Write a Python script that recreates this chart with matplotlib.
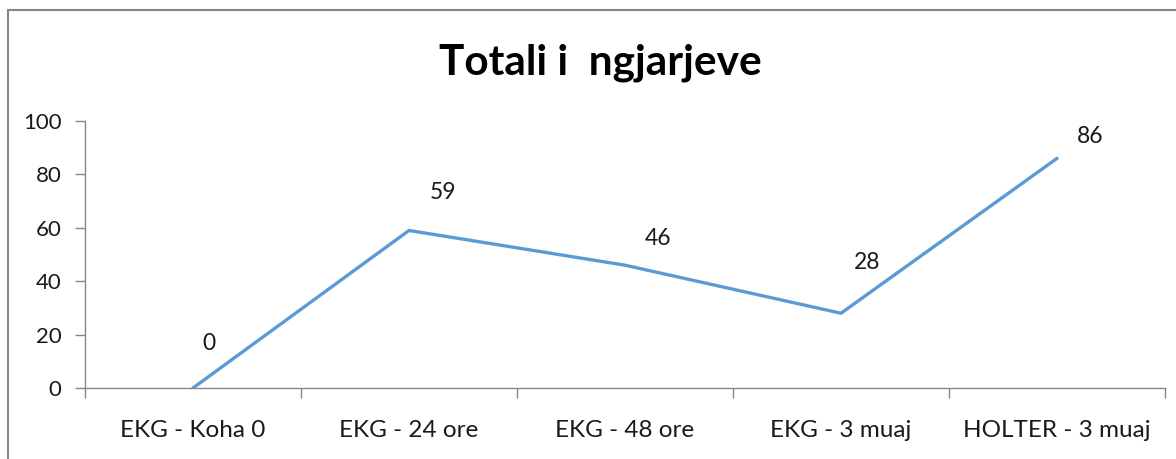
import matplotlib
matplotlib.use('Agg')
import matplotlib.pyplot as plt
from matplotlib.patches import Rectangle

categories = ['EKG - Koha 0', 'EKG - 24 ore', 'EKG - 48 ore', 'EKG - 3 muaj', 'HOLTER - 3 muaj']
values = [0, 59, 46, 28, 86]
title = 'Totali i  ngjarjeve'

# label offsets in pixels (dx, dy) relative to each point, as in the original chart
label_offsets = [(16, 45), (34, 38), (33, 27), (26, 51), (33, 22)]

plt.rcParams['font.family'] = ['Lato', 'DejaVu Sans']

fig = plt.figure(figsize=(11.76, 4.59), dpi=100)
W, H = 1176, 459
ax = fig.add_axes([85 / W, 1 - 388 / H, (1165 - 85) / W, (388 - 121) / H])

x = [i + 0.5 for i in range(len(categories))]
ax.plot(x, values, color='#5B9BD5', lw=2.4, solid_capstyle='round')

for xi, v, (dx, dy) in zip(x, values, label_offsets):
    ax.annotate(str(v), (xi, v), xytext=(dx * 0.72, dy * 0.72), textcoords='offset points',
                ha='center', va='center', fontsize=16.5, color='#1a1a1a')

ax.set_xlim(0, len(categories))
ax.set_ylim(0, 100)
ax.set_yticks(range(0, 101, 20))
ax.set_xticks(range(len(categories) + 1))
ax.set_xticklabels([])
ax.set_xticks(x, minor=True)
ax.set_xticklabels(categories, minor=True)
ax.tick_params(axis='x', which='minor', length=0, pad=23, labelsize=17.5, labelcolor='#1a1a1a')
ax.tick_params(axis='x', which='major', length=7, width=1, color='#868686', direction='out')
ax.tick_params(axis='y', length=7, width=1, color='#868686', pad=10, labelsize=16, labelcolor='#1a1a1a')

for side in ('top', 'right'):
    ax.spines[side].set_visible(False)
for side in ('left', 'bottom'):
    ax.spines[side].set_color('#868686')
    ax.spines[side].set_linewidth(1)

fig.text(600 / W, 1 - 63 / H, title, ha='center', va='center', fontsize=30.5,
         fontweight='bold', color='#000000')

# chart border (only top-left visible in the original crop)
fig.patches.append(Rectangle((8 / W, -0.1), 1.2, 1 - 10 / H + 0.1, transform=fig.transFigure,
                             fill=False, edgecolor='#868686', lw=1.5))

fig.savefig('out.png', dpi=100)
